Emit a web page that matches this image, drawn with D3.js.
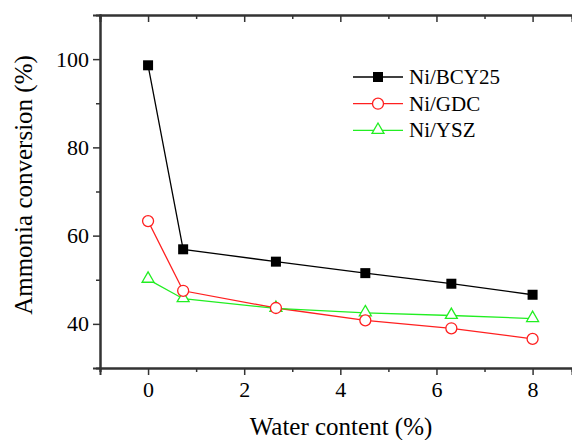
<!DOCTYPE html>
<html>
<head>
<meta charset="utf-8">
<script src="https://cdn.jsdelivr.net/npm/d3@7"></script>
<style>
  body { margin: 0; background: #fff; }
  svg text { font-family: "Liberation Serif", "Times New Roman", Times, serif !important; fill: #000; }
</style>
</head>
<body>
<div id="chart"></div>
<script>
var water = [0, 0.73, 2.66, 4.52, 6.31, 8.0];
var bcy25 = [98.6, 56.9, 54.1, 51.5, 49.1, 46.6];
var gdc   = [63.3, 47.5, 43.6, 40.8, 39.0, 36.6];
var ysz   = [50.1, 45.7, 43.5, 42.5, 41.9, 41.2];
var xTicks = [0, 2, 4, 6, 8];
var yTicks = [40, 60, 80, 100];

var width = 572, height = 440;
var margin = {top: 15, right: 0, bottom: 72, left: 100};

var svg = d3.select("#chart").append("svg")
    .attr("width", width)
    .attr("height", height);

var x = d3.scaleLinear().domain([-1, 8.82]).range([margin.left, width - margin.right]);
var y = d3.scaleLinear().domain([30, 110]).range([height - margin.bottom, margin.top]);

var axisColor = "#333";

// bottom axis
svg.append("g")
    .attr("transform", "translate(0," + y(30) + ")")
    .call(d3.axisBottom(x).tickValues(xTicks).tickSize(7).tickPadding(6).tickFormat(d3.format("d")));
svg.append("g")
    .attr("transform", "translate(0," + y(30) + ")")
    .call(d3.axisBottom(x).tickValues([-1, 1, 3, 5, 7]).tickSize(4).tickFormat(""));

// top axis, ticks inward
svg.append("g")
    .attr("transform", "translate(0," + y(110) + ")")
    .call(d3.axisBottom(x).tickValues(xTicks).tickSize(7).tickFormat(""));
svg.append("g")
    .attr("transform", "translate(0," + y(110) + ")")
    .call(d3.axisBottom(x).tickValues([1, 3, 5, 7]).tickSize(4).tickFormat(""));

// left axis
svg.append("g")
    .attr("transform", "translate(" + x(-1) + ",0)")
    .call(d3.axisLeft(y).tickValues(yTicks).tickSize(7).tickPadding(4));
svg.append("g")
    .attr("transform", "translate(" + x(-1) + ",0)")
    .call(d3.axisLeft(y).tickValues([50, 70, 90]).tickSize(4).tickFormat(""));

svg.selectAll("g").attr("font-family", null);
svg.selectAll(".domain").attr("stroke", axisColor).attr("stroke-width", 2);
svg.selectAll(".tick line").attr("stroke", axisColor).attr("stroke-width", 1.5);
svg.selectAll(".tick text")
    .style("font-size", "22px")
    .attr("fill", "#000");

// axis titles
svg.append("text")
    .attr("x", 341)
    .attr("y", 435)
    .attr("text-anchor", "middle")
    .style("font-size", "25px")
    .text("Water content (%)");

svg.append("text")
    .attr("transform", "translate(32,185) rotate(-90)")
    .attr("text-anchor", "middle")
    .style("font-size", "25px")
    .text("Ammonia conversion (%)");

var series = [
  {name: "Ni/BCY25", values: bcy25, color: "#000", shape: "square"},
  {name: "Ni/GDC", values: gdc, color: "#ff2020", shape: "circle"},
  {name: "Ni/YSZ", values: ysz, color: "#22ee22", shape: "triangle"}
];

var line = d3.line()
    .x(function(d) { return x(d[0]); })
    .y(function(d) { return y(d[1]); });

function marker(g, s, cx, cy) {
  if (s.shape === "square") {
    g.append("rect").attr("x", cx - 5).attr("y", cy - 5).attr("width", 10).attr("height", 10)
      .attr("fill", "#000");
  } else if (s.shape === "circle") {
    g.append("circle").attr("cx", cx).attr("cy", cy).attr("r", 5.5)
      .attr("fill", "#fff").attr("stroke", s.color).attr("stroke-width", 1.3);
  } else {
    var sym = d3.symbol().type(d3.symbolTriangle).size(62);
    g.append("path").attr("d", sym).attr("transform", "translate(" + cx + "," + (cy - 0.5) + ")")
      .attr("fill", "#fff").attr("stroke", s.color).attr("stroke-width", 1.3);
  }
}

series.forEach(function(s) {
  var pts = water.map(function(w, i) { return [w, s.values[i]]; });
  svg.append("path")
    .datum(pts)
    .attr("d", line)
    .attr("fill", "none")
    .attr("stroke", s.color)
    .attr("stroke-width", 1.3);
});
series.slice().reverse().forEach(function(s) {
  var g = svg.append("g");
  water.forEach(function(w, i) { marker(g, s, x(w), y(s.values[i])); });
});

// legend
var legend = svg.append("g");
series.forEach(function(s, i) {
  var ly = 77 + i * 26.7;
  legend.append("line")
    .attr("x1", 353).attr("x2", 403).attr("y1", ly).attr("y2", ly)
    .attr("stroke", s.color).attr("stroke-width", 1.3);
  marker(legend, s, 378, ly);
  legend.append("text")
    .attr("x", 409).attr("y", ly + 7)
    .style("font-size", "21px")
    .text(s.name);
});
</script>
</body>
</html>
